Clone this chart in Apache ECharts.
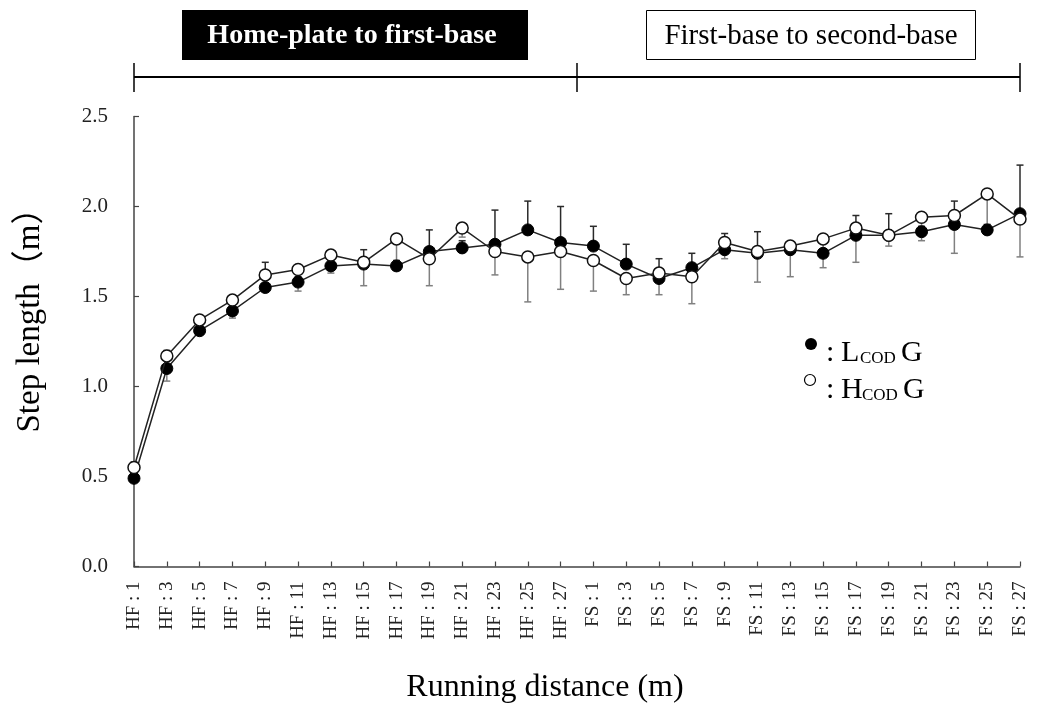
<!DOCTYPE html>
<html>
<head>
<meta charset="utf-8">
<script src="https://cdn.jsdelivr.net/npm/echarts@6/dist/echarts.min.js"></script>
<style>
  html, body { margin: 0; padding: 0; background: #fff; }
  #chart { width: 1038px; height: 708px; }
</style>
</head>
<body>
<div id="chart"></div>
<script>
// Step length per running-distance segment for the two groups
const categories = [
  'HF : 1', 'HF : 3', 'HF : 5', 'HF : 7', 'HF : 9', 'HF : 11', 'HF : 13',
  'HF : 15', 'HF : 17', 'HF : 19', 'HF : 21', 'HF : 23', 'HF : 25', 'HF : 27',
  'FS : 1', 'FS : 3', 'FS : 5', 'FS : 7', 'FS : 9', 'FS : 11', 'FS : 13',
  'FS : 15', 'FS : 17', 'FS : 19', 'FS : 21', 'FS : 23', 'FS : 25', 'FS : 27'
];

// LCODG (filled markers): means and SD (drawn upward)
const lcodMean = [0.49, 1.10, 1.31, 1.42, 1.55, 1.58, 1.67, 1.68, 1.67, 1.75, 1.77, 1.79, 1.87, 1.80,
                  1.78, 1.68, 1.60, 1.66, 1.76, 1.74, 1.76, 1.74, 1.84, 1.84, 1.86, 1.90, 1.87, 1.96];
const lcodSD   = [0.09, 0.10, 0.03, 0.03, 0.14, 0.03, 0.03, 0.08, 0.03, 0.12, 0.04, 0.19, 0.16, 0.20,
                  0.11, 0.11, 0.11, 0.08, 0.09, 0.12, 0.02, 0.02, 0.11, 0.12, 0.03, 0.13, 0.03, 0.27];

// HCODG (open markers): means and SD (drawn downward)
const hcodMean = [0.55, 1.17, 1.37, 1.48, 1.62, 1.65, 1.73, 1.69, 1.82, 1.71, 1.88, 1.75, 1.72, 1.75,
                  1.70, 1.60, 1.63, 1.61, 1.80, 1.75, 1.78, 1.82, 1.88, 1.84, 1.94, 1.95, 2.07, 1.93];
const hcodSD   = [0.03, 0.14, 0.03, 0.10, 0.07, 0.12, 0.10, 0.13, 0.15, 0.15, 0.05, 0.13, 0.25, 0.21,
                  0.17, 0.09, 0.12, 0.15, 0.09, 0.17, 0.17, 0.16, 0.19, 0.06, 0.13, 0.21, 0.19, 0.21];

const yTicks = [0, 0.5, 1.0, 1.5, 2.0, 2.5];
const sectionTitles = ['Home-plate to first-base', 'First-base to second-base'];
const yTitle = 'Step length（m）';
const xTitle = 'Running distance (m)';

const SERIF = "'Liberation Serif', 'Times New Roman', 'Noto Sans CJK JP', serif";

const chart = echarts.init(document.getElementById('chart'), null, { renderer: 'canvas' });

// One-sided error bar: dir = +1 draws above the mean, -1 below
function errorBar(color, dir) {
  return function (params, api) {
    const i = api.value(0);
    const mean = api.value(1);
    const sd = api.value(2);
    const p0 = api.coord([i, mean]);
    const p1 = api.coord([i, mean + dir * sd]);
    const hw = 3.5;
    return {
      type: 'group',
      children: [
        { type: 'line', shape: { x1: p0[0], y1: p0[1], x2: p1[0], y2: p1[1] },
          style: { stroke: color, lineWidth: 1.5 } },
        { type: 'line', shape: { x1: p1[0] - hw, y1: p1[1], x2: p1[0] + hw, y2: p1[1] },
          style: { stroke: color, lineWidth: 1.5 } }
      ]
    };
  };
}

const lcodErr = lcodMean.map((m, i) => [i, m, lcodSD[i]]);
const hcodErr = hcodMean.map((m, i) => [i, m, hcodSD[i]]);

chart.setOption({
  animation: false,
  backgroundColor: '#fff',
  grid: { left: 134, right: 18, top: 116.5, bottom: 141.5, containLabel: false },
  xAxis: {
    type: 'category',
    data: categories,
    boundaryGap: false,
    axisLine: { lineStyle: { color: '#444', width: 1.5 } },
    axisTick: { inside: true, length: 5, interval: 0, lineStyle: { color: '#444', width: 1.2 } },
    axisLabel: {
      interval: 0, rotate: 90, margin: 15,
      fontFamily: SERIF, fontSize: 19, color: '#222'
    },
    splitLine: { show: false }
  },
  yAxis: {
    type: 'value',
    min: yTicks[0], max: yTicks[yTicks.length - 1], interval: 0.5,
    axisLine: { show: true, lineStyle: { color: '#444', width: 1.5 } },
    axisTick: { show: true, inside: true, length: 5, lineStyle: { color: '#444', width: 1.2 } },
    axisLabel: {
      margin: 26, fontFamily: SERIF, fontSize: 21, color: '#222',
      formatter: v => v.toFixed(1)
    },
    splitLine: { show: false }
  },
  series: [
    {
      name: 'LCODG SD', type: 'custom', z: 2,
      renderItem: errorBar('#2a2a2a', 1),
      data: lcodErr, encode: { x: 0, y: 1 }
    },
    {
      name: 'HCODG SD', type: 'custom', z: 2,
      renderItem: errorBar('#808080', -1),
      data: hcodErr, encode: { x: 0, y: 1 }
    },
    {
      name: 'LCODG', type: 'line', z: 3,
      data: lcodMean,
      symbol: 'circle', symbolSize: 12, showAllSymbol: true,
      lineStyle: { color: '#222', width: 1.5 },
      itemStyle: { color: '#000', borderColor: '#000', borderWidth: 1 }
    },
    {
      name: 'HCODG', type: 'line', z: 4,
      data: hcodMean,
      symbol: 'circle', symbolSize: 12, showAllSymbol: true,
      lineStyle: { color: '#222', width: 1.5 },
      itemStyle: { color: '#fff', borderColor: '#111', borderWidth: 1.5 }
    }
  ]
});

// Section bracket spans the category axis
const xFirst = chart.convertToPixel({ xAxisIndex: 0 }, 0);
const xLast = chart.convertToPixel({ xAxisIndex: 0 }, categories.length - 1);
const xMid = (chart.convertToPixel({ xAxisIndex: 0 }, 13) + chart.convertToPixel({ xAxisIndex: 0 }, 14)) / 2;
const bracketY = 77;

function txt(x, y, text, size, extra) {
  return {
    type: 'text', x: x, y: y, silent: true,
    style: Object.assign({
      text: text, fontFamily: SERIF, fontSize: size, fill: '#000',
      align: 'left', verticalAlign: 'middle'
    }, extra || {})
  };
}

chart.setOption({
  graphic: [
    // section headers
    { type: 'rect', shape: { x: 182, y: 10, width: 346, height: 50 }, style: { fill: '#000' } },
    txt(352, 36, sectionTitles[0], 28, { fill: '#fff', fontWeight: 'bold', align: 'center' }),
    { type: 'rect', shape: { x: 646.5, y: 10.5, width: 329, height: 49 },
      style: { fill: '#fff', stroke: '#000', lineWidth: 1 } },
    txt(811, 36, sectionTitles[1], 29, { align: 'center' }),
    // bracket
    { type: 'line', shape: { x1: xFirst, y1: bracketY, x2: xLast, y2: bracketY }, style: { stroke: '#000', lineWidth: 1.8 } },
    { type: 'line', shape: { x1: xFirst, y1: 63, x2: xFirst, y2: 92 }, style: { stroke: '#000', lineWidth: 1.5 } },
    { type: 'line', shape: { x1: xMid, y1: 63, x2: xMid, y2: 92 }, style: { stroke: '#000', lineWidth: 1.5 } },
    { type: 'line', shape: { x1: xLast, y1: 63, x2: xLast, y2: 92 }, style: { stroke: '#000', lineWidth: 1.5 } },
    // axis titles
    Object.assign(txt(30, 312, yTitle, 33, { align: 'center' }), { rotation: Math.PI / 2 }),
    txt(545, 688, xTitle, 32, { align: 'center' }),
    // legend
    { type: 'circle', shape: { cx: 811, cy: 344, r: 6 }, style: { fill: '#000' } },
    txt(826, 353, ':', 30),
    txt(841, 353, 'L', 30),
    txt(860, 359, 'COD', 17),
    txt(901, 353, 'G', 30),
    { type: 'circle', shape: { cx: 810, cy: 380, r: 5.5 }, style: { fill: '#fff', stroke: '#000', lineWidth: 1.2 } },
    txt(826, 390, ':', 30),
    txt(841, 390, 'H', 30),
    txt(862, 396, 'COD', 17),
    txt(903, 390, 'G', 30)
  ]
});
</script>
</body>
</html>
